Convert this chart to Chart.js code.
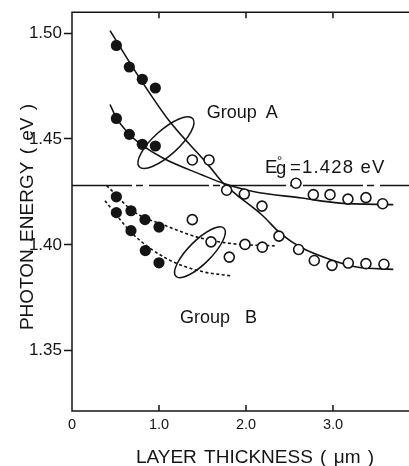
<!DOCTYPE html>
<html><head><meta charset="utf-8">
<script src="https://cdn.jsdelivr.net/npm/chart.js@4.4.0/dist/chart.umd.min.js"></script>
<style>html,body{margin:0;padding:0;background:#fff;}#wrap{width:409px;height:466px;}</style>
</head><body><div id="wrap"><canvas id="c" width="409" height="466"></canvas></div>
<script>
// ---- axis ticks ----
const xTickValues = [0, 1, 2, 3];
const xTickLabels = ['0', '1.0', '2.0', '3.0'];
const yTickValues = [1.35, 1.40, 1.45, 1.50];
const yTickLabels = ['1.35', '1.40', '1.45', '1.50'];
const egValue = 1.428;

// ---- Group A measured points ----
const aFilledUpperX = [0.51, 0.659, 0.808, 0.958];
const aFilledUpperY = [1.4942, 1.4840, 1.4782, 1.4741];
const aFilledLowerX = [0.51, 0.659, 0.808, 0.958];
const aFilledLowerY = [1.4597, 1.4522, 1.4475, 1.4467];
const aOpenFlatX = [1.383, 1.575, 2.575, 2.774, 2.966, 3.172, 3.379, 3.571];
const aOpenFlatY = [1.4401, 1.4401, 1.4291, 1.4237, 1.4237, 1.4216, 1.4223, 1.4194];
const aOpenSteepX = [1.778, 1.981, 2.184, 2.379, 2.605, 2.785, 2.989, 3.176, 3.379, 3.586];
const aOpenSteepY = [1.4258, 1.4240, 1.4183, 1.4041, 1.3978, 1.3926, 1.3903, 1.3914, 1.3911, 1.3908];

// ---- Group B measured points ----
const bFilledUpperX = [0.51, 0.678, 0.839, 1.0];
const bFilledUpperY = [1.4227, 1.4161, 1.4119, 1.4084];
const bFilledLowerX = [0.51, 0.678, 0.843, 1.0];
const bFilledLowerY = [1.4152, 1.4067, 1.3973, 1.3915];
const bOpenX = [1.383, 1.598, 1.808, 1.989, 2.188];
const bOpenY = [1.4119, 1.4014, 1.3942, 1.4002, 1.3989];

// ---- fitted curves ----
const curveASteepX = [0.437, 0.782, 1.126, 1.563, 1.739, 1.893, 2.18, 2.41, 2.64, 2.966, 3.272, 3.693];
const curveASteepY = [1.5012, 1.4785, 1.4581, 1.4379, 1.4291, 1.4236, 1.4142, 1.4049, 1.3986, 1.3931, 1.3895, 1.3884];
const curveAFlatX = [0.437, 0.514, 0.667, 0.801, 1.049, 1.491, 1.739, 2.084, 2.64, 3.08, 3.693];
const curveAFlatY = [1.4663, 1.4597, 1.4519, 1.4472, 1.4409, 1.4331, 1.4291, 1.4252, 1.4221, 1.4197, 1.4190];
const curveBUpperX = [0.399, 0.705, 1.08, 1.471, 1.854, 2.33];
const curveBUpperY = [1.4280, 1.4158, 1.4090, 1.4033, 1.4005, 1.3995];
const curveBLowerX = [0.379, 0.705, 1.088, 1.471, 1.83];
const curveBLowerY = [1.4208, 1.4049, 1.3935, 1.3876, 1.3853];

const X_MIN = 0, X_MAX = 3.874, Y_MIN = 1.3215, Y_MAX = 1.5099;
const INK = '#141414';
const pts = (xs, ys) => xs.map((x, i) => ({x: x, y: ys[i]}));

const filled = (xs, ys) => ({data: pts(xs, ys), showLine: false, pointStyle: 'circle', pointRadius: 5.6,
  pointBackgroundColor: INK, pointBorderColor: INK, pointBorderWidth: 0, order: 0});
const open = (xs, ys) => ({data: pts(xs, ys), showLine: false, pointStyle: 'circle', pointRadius: 5,
  pointBackgroundColor: '#fff', pointBorderColor: INK, pointBorderWidth: 1.6, order: 0});
const curve = (xs, ys, dash) => ({data: pts(xs, ys), showLine: true, pointRadius: 0, borderColor: INK,
  borderWidth: 1.6, borderDash: dash, cubicInterpolationMode: 'monotone', fill: false, order: 1});

const FONT = "'Liberation Sans', Arial, sans-serif";

const decor = {
  id: 'decor',
  beforeDatasetsDraw(chart) {
    const {ctx, chartArea: a, scales: {x, y}} = chart;
    ctx.save();
    ctx.strokeStyle = INK; ctx.lineWidth = 1.5; ctx.lineCap = 'butt';
    ctx.beginPath();
    ctx.moveTo(a.left, a.top); ctx.lineTo(a.right, a.top);
    ctx.moveTo(a.left, a.top - 0.75); ctx.lineTo(a.left, a.bottom + 0.75);
    ctx.moveTo(a.left, a.bottom); ctx.lineTo(a.right, a.bottom);
    xTickValues.forEach(v => {
      if (v === 0) return;
      const px = x.getPixelForValue(v);
      ctx.moveTo(px, a.bottom); ctx.lineTo(px, a.bottom - 6);
      ctx.moveTo(px, a.top); ctx.lineTo(px, a.top + 6);
    });
    ctx.stroke();
    // grouping loops
    const loops = [
      {cx: 1.08, cy: 1.4483, rx: 36, ry: 12.5, rot: -42},
      {cx: 1.471, cy: 1.3965, rx: 34, ry: 11.5, rot: -45}
    ];
    loops.forEach(l => {
      ctx.beginPath();
      ctx.ellipse(x.getPixelForValue(l.cx), y.getPixelForValue(l.cy), l.rx, l.ry, l.rot * Math.PI / 180, 0, Math.PI * 2);
      ctx.stroke();
    });
    ctx.restore();
  },
  afterDraw(chart) {
    const {ctx, chartArea: a, scales: {x, y}} = chart;
    ctx.save();
    ctx.fillStyle = INK;
    ctx.textBaseline = 'alphabetic';
    // group labels
    ctx.font = '18px ' + FONT;
    ctx.textAlign = 'left';
    ctx.wordSpacing = '4px';
    ctx.fillText('Group A', x.getPixelForValue(1.548), y.getPixelForValue(1.4597));
    ctx.wordSpacing = '10px';
    ctx.fillText('Group B', x.getPixelForValue(1.241), y.getPixelForValue(1.3632));
    ctx.wordSpacing = '0px';
    // Eg label
    const ex = x.getPixelForValue(2.218), ey = y.getPixelForValue(1.4337);
    ctx.font = '18.5px ' + FONT;
    ctx.fillText('E', ex, ey);
    ctx.fillText('g', ex + 11, ey + 1);
    ctx.font = '13px ' + FONT;
    ctx.fillText('°', ex + 12, ey - 8);
    ctx.font = '18.5px ' + FONT;
    ctx.letterSpacing = '1.2px';
    ctx.fillText('=1.428 eV', ex + 25, ey);
    ctx.letterSpacing = '0px';
    // axis titles
    ctx.font = '19px ' + FONT;
    ctx.textAlign = 'center';
    ctx.wordSpacing = '2px';
    ctx.fillText('LAYER THICKNESS ( μm )', 255, 463);
    ctx.save();
    ctx.translate(33, 217);
    ctx.rotate(-Math.PI / 2);
    ctx.fillText('PHOTON ENERGY ( eV )', 0, 0);
    ctx.restore();
    ctx.restore();
  }
};

new Chart(document.getElementById('c'), {
  type: 'scatter',
  data: {
    datasets: [
      filled(aFilledUpperX, aFilledUpperY),
      filled(aFilledLowerX, aFilledLowerY),
      open(aOpenFlatX, aOpenFlatY),
      open(aOpenSteepX, aOpenSteepY),
      filled(bFilledUpperX, bFilledUpperY),
      filled(bFilledLowerX, bFilledLowerY),
      open(bOpenX, bOpenY),
      curve(curveASteepX, curveASteepY, []),
      curve(curveAFlatX, curveAFlatY, []),
      curve(curveBUpperX, curveBUpperY, [3, 2.5]),
      curve(curveBLowerX, curveBLowerY, [3, 2.5]),
      {data: [{x: X_MIN, y: egValue}, {x: X_MAX, y: egValue}], showLine: true, pointRadius: 0,
       borderColor: INK, borderWidth: 1.5, borderDash: [60, 4, 7, 6], order: 2}
    ]
  },
  options: {
    responsive: false,
    devicePixelRatio: 1,
    animation: false,
    events: [],
    layout: {autoPadding: false, padding: {top: 10, right: 0, left: 0, bottom: 0}},
    plugins: {legend: {display: false}, tooltip: {enabled: false}},
    scales: {
      x: {
        type: 'linear', min: X_MIN, max: X_MAX,
        afterBuildTicks: s => { s.ticks = xTickValues.map(v => ({value: v})); },
        afterFit: s => { s.height = 55; },
        grid: {display: false, drawTicks: false},
        border: {display: false},
        ticks: {padding: 5, color: INK, font: {size: 14.5, family: FONT},
          callback: v => { const i = xTickValues.indexOf(v); return i >= 0 ? xTickLabels[i] : ''; }}
      },
      y: {
        type: 'linear', min: Y_MIN, max: Y_MAX,
        afterBuildTicks: s => { s.ticks = yTickValues.map(v => ({value: v})); },
        afterFit: s => { s.width = 72; },
        grid: {display: true, drawOnChartArea: false, drawTicks: true, tickLength: 8, tickColor: INK, tickWidth: 1.5},
        border: {display: false},
        ticks: {padding: 2, color: INK, font: {size: 17, family: FONT},
          callback: v => { const i = yTickValues.findIndex(t => Math.abs(t - v) < 1e-9); return i >= 0 ? yTickLabels[i] : ''; }}
      }
    }
  },
  plugins: [decor]
});
</script>
</body></html>
